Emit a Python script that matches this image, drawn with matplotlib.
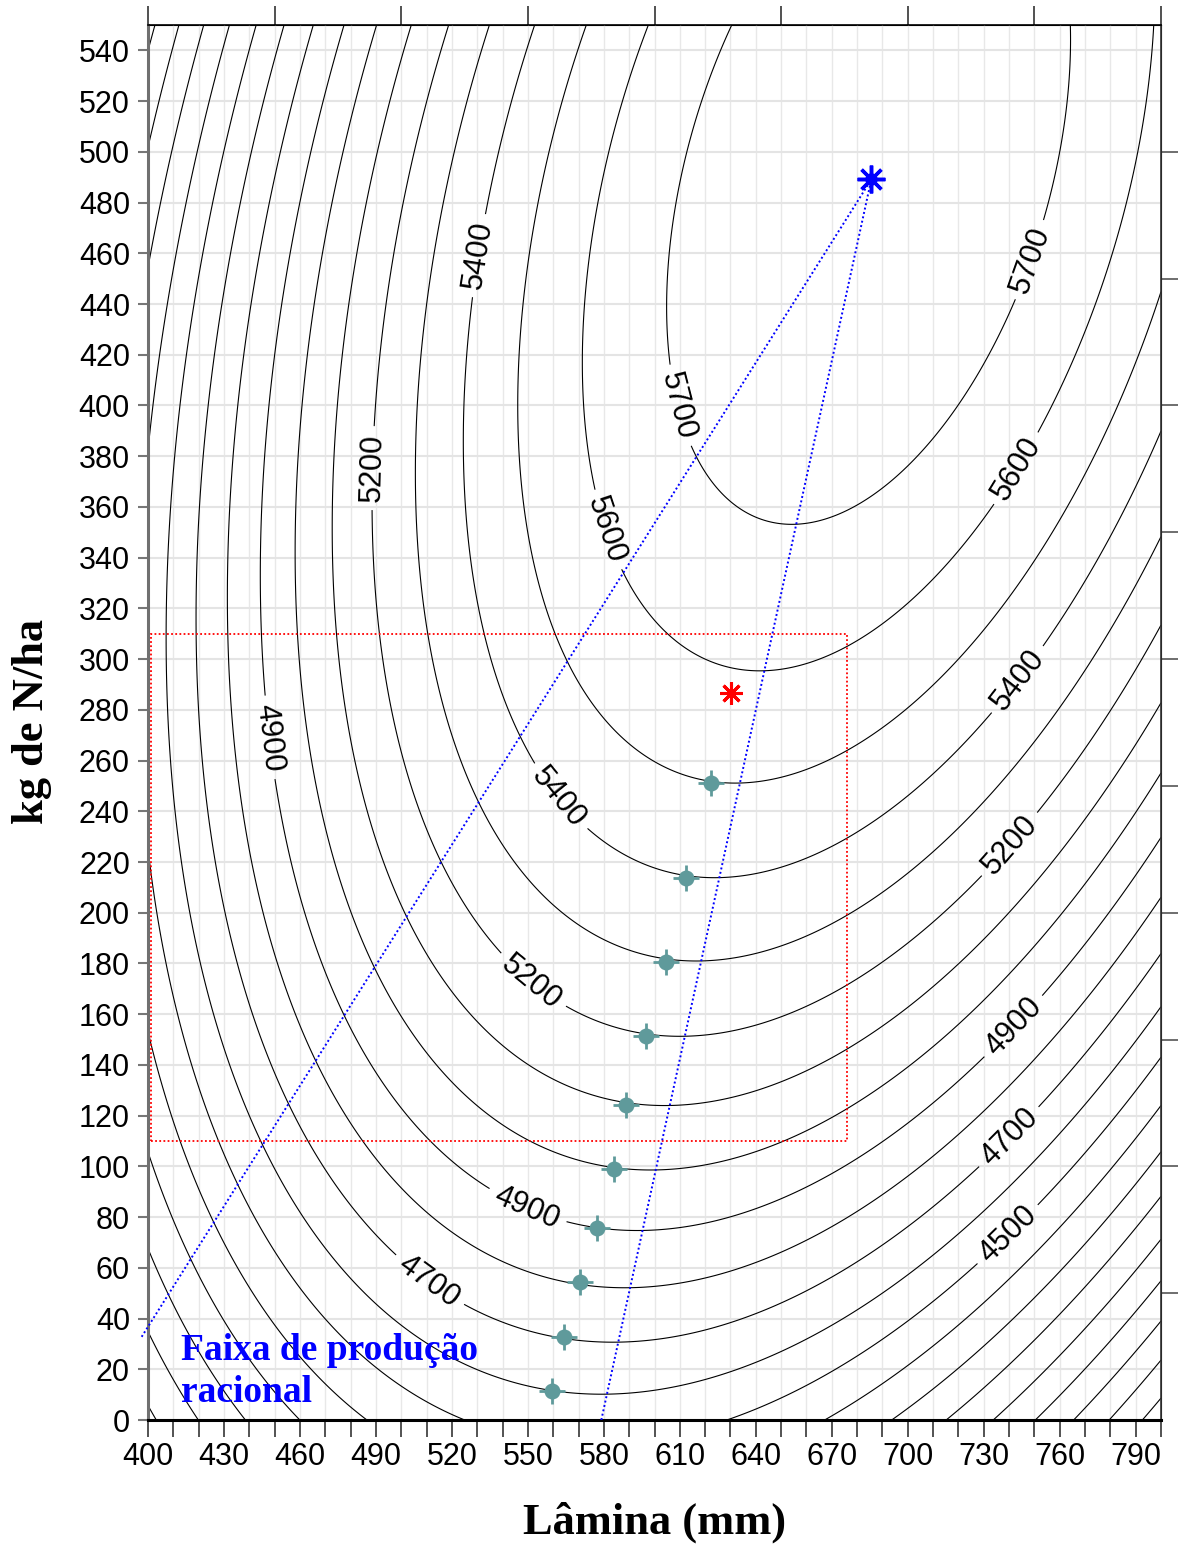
import numpy as np
import matplotlib
matplotlib.use("Agg")
import matplotlib.pyplot as plt
from matplotlib.patches import Rectangle
from matplotlib.ticker import NullFormatter

plt.rcParams["font.family"] = ["Liberation Sans", "DejaVu Sans"]

# Quadratic response surface: yield = b0 + bL*L + bN*N + bLL*L^2 + bNN*N^2 + bLN*L*N
# L = irrigation depth (mm), N = nitrogen rate (kg/ha)
b0 = -1513.5395
bL = 21.020066
bN = 0.48096434
bLL = -0.018220834
bNN = -0.0060504778
bLN = 0.0079863208

yield_levels = [3700, 3800, 3900, 4000, 4100, 4200, 4300, 4400, 4500, 4600,
                4700, 4800, 4900, 5000, 5100, 5200, 5300, 5400, 5500, 5600, 5700]
labelled_levels = [4500, 4700, 4900, 5200, 5400, 5600, 5700]

# Expansion-path points (one per isoquant, 4600 ... 5500)
path_lamina = [559.6, 564.4, 570.5, 577.1, 583.9, 588.8, 596.8, 604.7, 612.6, 622.5]
path_n = [11.4, 32.8, 54.3, 75.8, 98.9, 124.2, 151.4, 180.6, 213.5, 251.1]

max_point = (685.6, 489.1)        # technical maximum
econ_point = (630.3, 286.8)       # economic optimum
ridge_right_start = (579.0, 0.0)
ridge_left_start = (397.5, 32.8)
box_lamina = (401.0, 676.0)
box_n = (110.0, 310.0)

x_ticks = list(range(400, 801, 10))
x_labelled = list(range(400, 791, 30))
y_ticks = list(range(0, 541, 20))
top_ticks = list(range(400, 801, 50))
right_ticks = list(range(50, 501, 50))

# contour label anchor points (L, N)
label_positions = [
    (610.0, 400.0), (581.5, 351.0), (562.7, 245.7), (552.1, 173.4),
    (549.5, 83.4), (511.3, 55.2), (449.5, 269.3), (488.9, 375.3),
    (531.1, 459.0), (748.0, 457.5), (742.8, 375.2), (743.7, 291.7),
    (739.9, 227.3), (742.0, 155.0), (739.9, 111.7), (739.1, 73.6),
]

W, H = 1180, 1544
fig = plt.figure(figsize=(W / 100, H / 100), dpi=100)
ax = fig.add_axes([148 / W, 1 - 1420 / H, (1161 - 148) / W, (1420 - 25) / H])
ax.set_xlim(400, 800)
ax.set_ylim(0, 550)

L = np.linspace(400, 800, 801)
N = np.linspace(0, 550, 1101)
LL, NN = np.meshgrid(L, N)
Z = b0 + bL * LL + bN * NN + bLL * LL ** 2 + bNN * NN ** 2 + bLN * LL * NN

# grid
ax.set_axisbelow(True)
ax.set_xticks(x_ticks)
ax.set_xticklabels([str(v) if v in x_labelled else "" for v in x_ticks])
ax.set_yticks(y_ticks)
ax.set_yticklabels([str(v) for v in y_ticks])
ax.grid(True, axis="x", color="#e8e8e8", lw=1.0)
ax.grid(True, axis="y", color="#e4e4e4", lw=1.5)

plain_levels = [v for v in yield_levels if v not in labelled_levels]
ax.contour(LL, NN, Z, levels=plain_levels, colors="black", linewidths=0.8)
cs_lab = ax.contour(LL, NN, Z, levels=labelled_levels, colors="black",
                    linewidths=0.8)
ax.clabel(cs_lab, manual=label_positions, inline=True, inline_spacing=8,
          fmt="%d", fontsize=22)

teal = "#5f9a9b"
ax.plot(path_lamina, path_n, "+", ms=19, mew=2.0, color=teal, zorder=5)
ax.plot(path_lamina, path_n, "o", ms=11.5, color=teal, mec="none", zorder=6)

dots = (0, (1, 1.3))
ax.plot([ridge_left_start[0], max_point[0]], [ridge_left_start[1], max_point[1]],
        color="blue", lw=1.4, ls=dots, clip_on=False, zorder=4)
ax.plot([ridge_right_start[0], max_point[0]], [ridge_right_start[1], max_point[1]],
        color="blue", lw=1.4, ls=dots, zorder=4)

ax.add_patch(Rectangle((box_lamina[0], box_n[0]), box_lamina[1] - box_lamina[0],
                       box_n[1] - box_n[0], fill=False, ec="red", lw=1.3, ls=dots,
                       zorder=3))

ax.plot(*max_point, marker=(8, 2, 0), ms=20, mew=2.5, color="blue", zorder=7)
ax.plot(*max_point, marker="o", ms=9, color="blue", mec="none", zorder=7)
ax.plot(*econ_point, marker=(8, 2, 0), ms=16, mew=2.2, color="red", zorder=7)
ax.plot(*econ_point, marker="o", ms=7, color="red", mec="none", zorder=7)

ax.text(413, 19, "Faixa de produção\nracional", color="blue", fontsize=27,
        fontweight="bold", family=["Liberation Serif", "DejaVu Serif"],
        ha="left", va="center", linespacing=1.25, zorder=8)

# axes styling
ax.tick_params(axis="x", direction="out", length=12, width=1.3, color="#444444",
               labelsize=22, pad=4)
ax.tick_params(axis="y", direction="out", length=7, width=1.5, color="#777777",
               labelsize=22, pad=6)
ax.spines["left"].set_color("#707070")
ax.spines["left"].set_linewidth(2.2)
ax.spines["bottom"].set_color("black")
ax.spines["bottom"].set_linewidth(2.2)
ax.spines["top"].set_linewidth(1.2)
ax.spines["right"].set_linewidth(1.2)
ax.spines["right"].set_color("#333333")

sec_top = ax.secondary_xaxis("top")
sec_top.set_xticks(top_ticks)
sec_top.xaxis.set_major_formatter(NullFormatter())
sec_top.tick_params(direction="out", length=14, width=1.2, color="#333333")

sec_right = ax.secondary_yaxis("right")
sec_right.set_yticks(right_ticks)
sec_right.yaxis.set_major_formatter(NullFormatter())
sec_right.tick_params(direction="out", length=12, width=1.2, color="#555555")

fig.text(32 / W, 1 - 722 / H, "kg de N/ha", rotation=90, fontsize=32,
         fontweight="bold", family=["Liberation Serif", "DejaVu Serif"],
         ha="center", va="center")
fig.text(655 / W, 1 - 1522 / H, "Lâmina (mm)", fontsize=32, fontweight="bold",
         family=["Liberation Serif", "DejaVu Serif"], ha="center", va="center")

fig.savefig("out.png", dpi=100)
